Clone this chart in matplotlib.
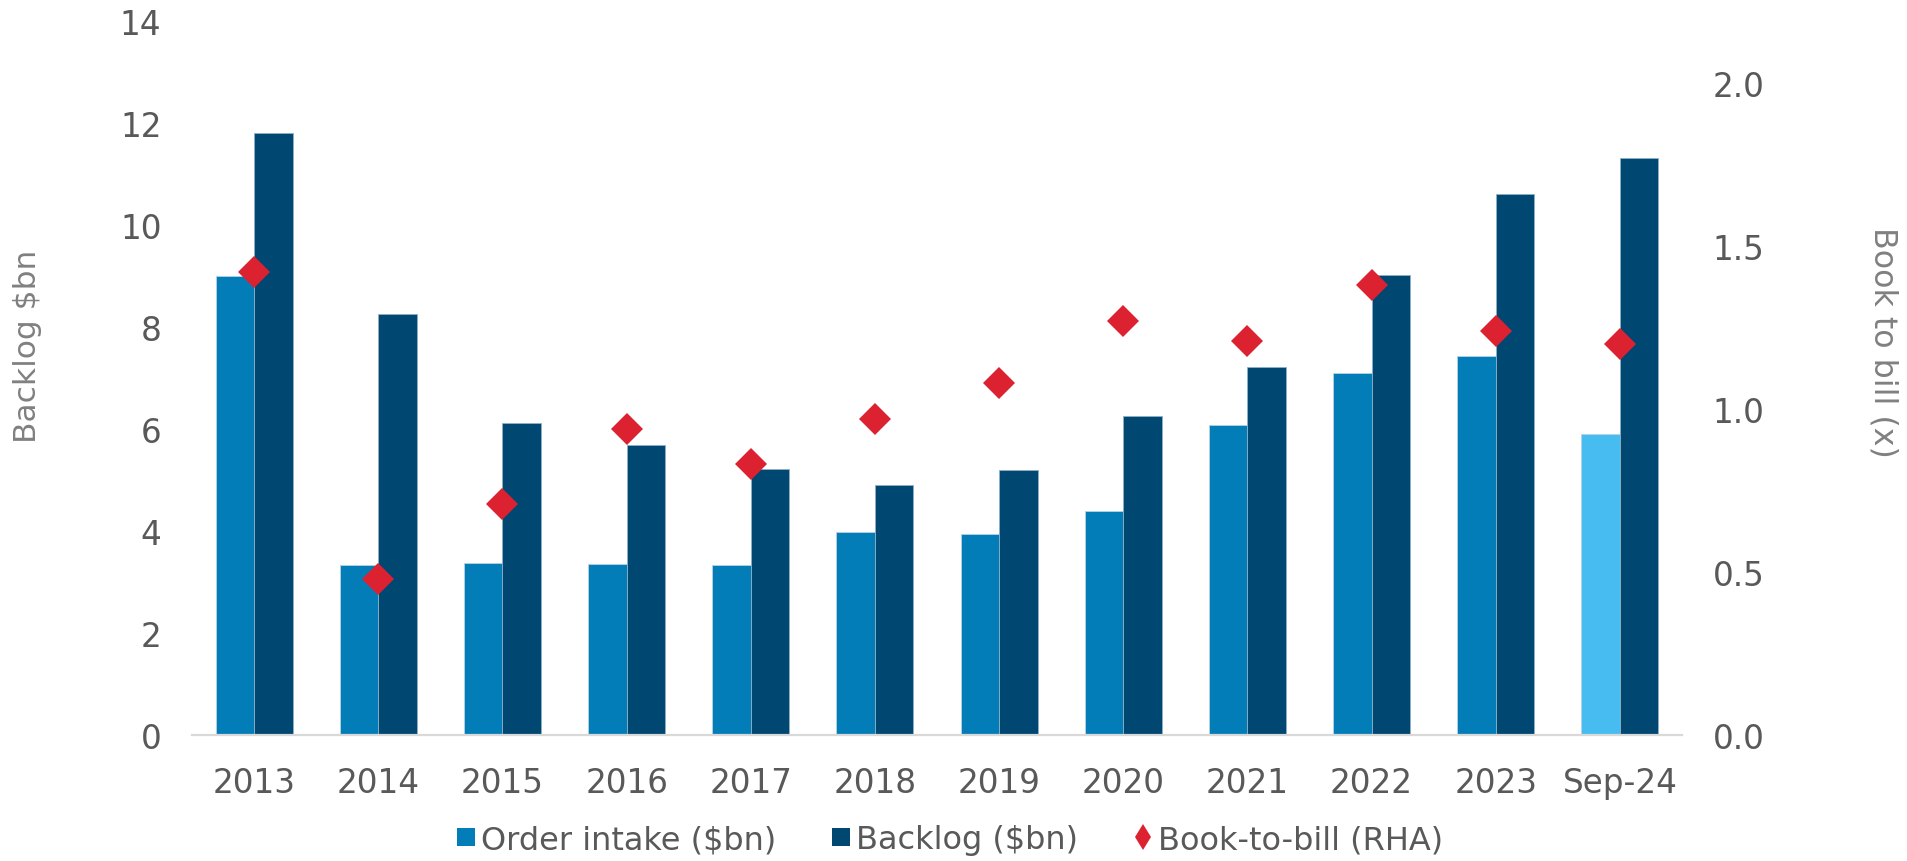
import matplotlib
matplotlib.use("Agg")
import matplotlib.pyplot as plt
from matplotlib.lines import Line2D
import numpy as np

categories = ['2013', '2014', '2015', '2016', '2017', '2018', '2019', '2020',
              '2021', '2022', '2023', 'Sep-24']
order_intake = [9.0, 3.33, 3.37, 3.35, 3.33, 3.98, 3.94, 4.40, 6.08, 7.10, 7.44, 5.91]
backlog = [11.8, 8.25, 6.11, 5.69, 5.21, 4.91, 5.19, 6.25, 7.21, 9.01, 10.60, 11.32]
book_to_bill = [1.42, 0.48, 0.71, 0.94, 0.83, 0.97, 1.08, 1.27, 1.21, 1.38, 1.24, 1.20]
left_ticks = [0, 2, 4, 6, 8, 10, 12, 14]
right_ticks = [0.0, 0.5, 1.0, 1.5, 2.0]

plt.rcParams['font.family'] = ['DejaVu Sans']

c_order = '#027DB8'
c_order_last = '#47BCF0'
c_backlog = '#004872'
c_btb = '#DC2231'
c_tick = '#595959'
c_label = '#808080'

fig = plt.figure(figsize=(19.08, 8.62), dpi=100)
ax = fig.add_axes([192/1908, 1-736/862, 1490/1908, 714/862])
ax2 = ax.twinx()

x = np.arange(len(categories))
w = 0.31
ocolors = [c_order] * (len(categories) - 1) + [c_order_last]
ax.bar(x - w/2, order_intake, width=w, color=ocolors, edgecolor='#B8D3E3',
       linewidth=0.6, zorder=2)
ax.bar(x + w/2, backlog, width=w, color=c_backlog, edgecolor='#8FB0C6',
       linewidth=0.6, zorder=2)
ax2.plot(x, book_to_bill, linestyle='none', marker='D', markersize=16.5,
         color=c_btb, markeredgewidth=0, zorder=3)

ax.set_xlim(-0.5, len(categories) - 0.5)
ax.set_ylim(0, 14)
ax2.set_ylim(0, 2.19)
ax.set_yticks(left_ticks)
ax.set_yticklabels([str(t) for t in left_ticks])
ax2.set_yticks(right_ticks)
ax2.set_yticklabels([f'{t:.1f}' for t in right_ticks])
ax.set_xticks(x)
ax.set_xticklabels(categories)

for a in (ax, ax2):
    for s in a.spines.values():
        s.set_visible(False)
    a.tick_params(length=0, labelsize=23.5, labelcolor=c_tick, pad=22)
ax.spines['bottom'].set_visible(True)
ax.spines['bottom'].set_color('#D9D9D9')
ax.spines['bottom'].set_linewidth(1.6)

fig.text(28/1908, 1-346/862, 'Backlog $bn', rotation=90, ha='center', va='center',
         fontsize=22.5, color=c_label)
fig.text(1883/1908, 1-342/862, 'Book to bill (x)', rotation=270, ha='center', va='center',
         fontsize=22.8, color=c_label)

handles = [
    Line2D([], [], linestyle='none', marker='s', markersize=13, color=c_order, markeredgewidth=0),
    Line2D([], [], linestyle='none', marker='s', markersize=13, color=c_backlog, markeredgewidth=0),
    Line2D([], [], linestyle='none', marker='d', markersize=13, color=c_btb, markeredgewidth=0),
]
labels = ['Order intake ($bn)', 'Backlog ($bn)', 'Book-to-bill (RHA)']
fig.legend(handles, labels, loc='center', bbox_to_anchor=(950/1908, 1-841/862), ncol=3,
           frameon=False, handlelength=0.55, handletextpad=0.2, columnspacing=1.75,
           prop={'size': 23}, labelcolor=c_tick, borderpad=0, borderaxespad=0)

fig.savefig('out.png', dpi=100, facecolor='white')
